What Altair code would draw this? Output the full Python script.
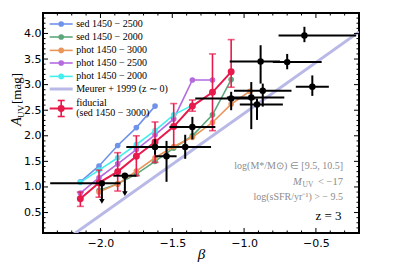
import altair as alt
import pandas as pd

# ---------------- data ----------------
beta_grid = [-2.14, -2.01, -1.88, -1.75, -1.62, -1.49, -1.36, -1.22, -1.09, -0.96]

blue_beta = beta_grid[0:5]
blue_A = [1.10, 1.41, 1.81, 2.16, 2.58]

cyan_beta = beta_grid[0:7]
cyan_A = [1.09, 1.33, 1.57, 1.83, 2.10, 2.41, 2.60]

purple_beta = beta_grid[0:8]
purple_A = [0.88, 1.18, 1.45, 1.73, 2.02, 2.33, 3.09, 3.09]

orange_beta = beta_grid[1:10]
orange_A = [0.90, 1.06, 1.31, 1.57, 1.79, 1.97, 2.26, 2.62, 2.87]

green_beta = beta_grid[1:9]
green_A = [0.93, 1.06, 1.25, 1.50, 1.76, 2.00, 2.41, 3.10]

red_beta = beta_grid[0:9]
red_A = [0.77, 1.08, 1.30, 1.60, 1.88, 2.18, 2.58, 2.85, 3.25]
red_lo = [0.62, 0.80, 0.92, 1.22, 1.48, 1.78, 2.48, 2.10, 2.95]
red_hi = [0.90, 1.33, 1.67, 2.00, 2.27, 2.63, 2.70, 3.60, 3.88]

meurer_beta = [-2.4, -0.2]
meurer_A = [-0.35, 4.03]

obs_beta = [-1.99, -1.83, -1.62, -1.54, -1.41, -1.36, -1.09, -0.95, -0.91, -0.87, -0.885, -0.70, -0.58, -0.525]
obs_A = [1.07, 1.22, 1.78, 1.60, 1.78, 2.17, 2.73, 2.75, 2.61, 2.88, 3.45, 3.44, 3.96, 2.96]
obs_xlo = [-2.35, -1.91, -1.82, -1.62, -1.52, -1.52, -1.34, -1.12, -1.03, -1.07, -1.10, -0.80, -0.76, -0.64]
obs_xhi = [-1.86, -1.75, -1.45, -1.47, -1.23, -1.20, -0.92, -0.72, -0.73, -0.67, -0.75, -0.46, -0.22, -0.41]
obs_ylo = [0.75, 0.90, 1.63, 1.10, 1.55, 1.93, 2.50, 2.13, 2.31, 2.57, 3.02, 3.30, 3.83, 2.78]
obs_yhi = [1.07, 1.22, 1.93, 1.90, 2.02, 2.37, 2.86, 3.05, 2.73, 3.02, 3.77, 3.60, 4.13, 3.18]
uplim_beta = [-1.99, -1.83]
uplim_A = [0.72, 0.87]

x_major = [-2.0, -1.5, -1.0, -0.5]
x_minor = [-2.3, -2.2, -2.1, -1.9, -1.8, -1.7, -1.6, -1.4, -1.3, -1.2, -1.1,
           -0.9, -0.8, -0.7, -0.6, -0.4, -0.3]
y_major = [0.5, 1.0, 1.5, 2.0, 2.5, 3.0, 3.5, 4.0]
y_minor = [0.2, 0.3, 0.4, 0.6, 0.7, 0.8, 0.9, 1.1, 1.2, 1.3, 1.4, 1.6, 1.7, 1.8, 1.9,
           2.1, 2.2, 2.3, 2.4, 2.6, 2.7, 2.8, 2.9, 3.1, 3.2, 3.3, 3.4, 3.6, 3.7, 3.8,
           3.9, 4.1, 4.2, 4.3]

series_names = ["sed 1450 − 2500", "sed 1450 − 2000", "phot 1450 − 3000",
                "phot 1450 − 2500", "phot 1450 − 2000"]
series_colors = ["#6f92ea", "#5ea77c", "#ea9559", "#b46be0", "#45eeee"]
meurer_label = "Meurer + 1999 (z ∼ 0)"
meurer_color = "#b9b9e8"
red_label = ["fiducial", "(sed 1450 − 3000)"]
red_color = "#e8194b"

W, H = 316, 220
SERIF = "Liberation Serif"

xs = alt.Scale(domain=[-2.4, -0.2], nice=False, zero=False)
ys = alt.Scale(domain=[0.1, 4.4], nice=False, zero=False)
xaxis = alt.Axis(values=x_major, title=None, ticks=False, domain=False, grid=False,
                 labelExpr="replace(format(datum.value, '.1f'), '-', '−')",
                 labelFont="DejaVu Sans", labelFontSize=11, labelColor="black",
                 labelPadding=4)
yaxis = alt.Axis(values=y_major, title=None, ticks=False, domain=False, grid=False,
                 format=".1f", labelFont="DejaVu Sans", labelFontSize=11,
                 labelColor="black", labelPadding=2)


def X(f):
    return alt.X(f + ":Q", scale=xs, axis=xaxis)


def Y(f):
    return alt.Y(f + ":Q", scale=ys, axis=yaxis)


layers = []

# Meurer
mdf = pd.DataFrame({"b": meurer_beta, "a": meurer_A})
layers.append(alt.Chart(mdf).mark_line(color=meurer_color, strokeWidth=3, clip=True)
              .encode(x=X("b"), y=Y("a")))

# model series
rows = []
for name, bb, aa in zip(series_names,
                        [blue_beta, green_beta, orange_beta, purple_beta, cyan_beta],
                        [blue_A, green_A, orange_A, purple_A, cyan_A]):
    for b, a in zip(bb, aa):
        rows.append({"s": name, "b": b, "a": a})
sdf = pd.DataFrame(rows)
cscale = alt.Scale(domain=series_names, range=series_colors)
layers.append(alt.Chart(sdf).mark_line(strokeWidth=1.6, clip=True)
              .encode(x=X("b"), y=Y("a"), color=alt.Color("s:N", scale=cscale, legend=None)))
layers.append(alt.Chart(sdf).mark_circle(size=32, opacity=1, clip=True)
              .encode(x=X("b"), y=Y("a"), color=alt.Color("s:N", scale=cscale, legend=None)))

# fiducial red
rdf = pd.DataFrame({"b": red_beta, "a": red_A, "lo": red_lo, "hi": red_hi})
layers.append(alt.Chart(rdf).mark_rule(color=red_color, strokeWidth=1.6, clip=True)
              .encode(x=X("b"), y=Y("lo"), y2="hi"))
layers.append(alt.Chart(rdf).mark_tick(color=red_color, orient="horizontal", size=7,
                                       thickness=1.6, clip=True)
              .encode(x=X("b"), y=Y("lo")))
layers.append(alt.Chart(rdf).mark_tick(color=red_color, orient="horizontal", size=7,
                                       thickness=1.6, clip=True)
              .encode(x=X("b"), y=Y("hi")))
layers.append(alt.Chart(rdf).mark_line(color=red_color, strokeWidth=2, clip=True)
              .encode(x=X("b"), y=Y("a")))
layers.append(alt.Chart(rdf).mark_circle(color=red_color, size=48, opacity=1, clip=True)
              .encode(x=X("b"), y=Y("a")))

# observations (black)
odf = pd.DataFrame({"b": obs_beta, "a": obs_A, "xlo": obs_xlo, "xhi": obs_xhi,
                    "ylo": obs_ylo, "yhi": obs_yhi})
layers.append(alt.Chart(odf).mark_rule(color="black", strokeWidth=2, clip=True)
              .encode(x=X("xlo"), x2="xhi", y=Y("a")))
layers.append(alt.Chart(odf).mark_rule(color="black", strokeWidth=2, clip=True)
              .encode(x=X("b"), y=Y("ylo"), y2="yhi"))
layers.append(alt.Chart(odf).mark_circle(color="black", size=42, opacity=1, clip=True)
              .encode(x=X("b"), y=Y("a")))
udf = pd.DataFrame({"b": uplim_beta, "a": uplim_A})
layers.append(alt.Chart(udf).mark_point(shape="triangle-down", filled=True, color="black",
                                        size=30, opacity=1, clip=True)
              .encode(x=X("b"), y=Y("a")))

# inward ticks on all four sides
for vals, ln in ((x_major, 5), (x_minor, 2.5)):
    tdf = pd.DataFrame({"v": vals})
    layers.append(alt.Chart(tdf).mark_rule(color="black", strokeWidth=1)
                  .encode(x=X("v"), y=alt.value(H), y2=alt.value(H - ln)))
    layers.append(alt.Chart(tdf).mark_rule(color="black", strokeWidth=1)
                  .encode(x=X("v"), y=alt.value(0), y2=alt.value(ln)))
for vals, ln in ((y_major, 5), (y_minor, 2.5)):
    tdf = pd.DataFrame({"v": vals})
    layers.append(alt.Chart(tdf).mark_rule(color="black", strokeWidth=1)
                  .encode(y=Y("v"), x=alt.value(0), x2=alt.value(ln)))
    layers.append(alt.Chart(tdf).mark_rule(color="black", strokeWidth=1)
                  .encode(y=Y("v"), x=alt.value(W), x2=alt.value(W - ln)))

# legend
LX0, LX1, LM, LT = 6.7, 29.7, 18.2, 33.2
LFS = 10
leg_y = [11, 24, 37.4, 50, 63.4]
for name, col, yy in zip(series_names, series_colors, leg_y):
    layers.append(alt.Chart().mark_rule(color=col, strokeWidth=1.6)
                  .encode(x=alt.value(LX0), x2=alt.value(LX1), y=alt.value(yy)))
    layers.append(alt.Chart().mark_circle(color=col, size=32, opacity=1)
                  .encode(x=alt.value(LM), y=alt.value(yy)))
    layers.append(alt.Chart().mark_text(font=SERIF, fontSize=LFS, align="left",
                                        baseline="middle", color="black")
                  .encode(x=alt.value(LT), y=alt.value(yy), text=alt.value(name)))
layers.append(alt.Chart().mark_rule(color=meurer_color, strokeWidth=3)
              .encode(x=alt.value(LX0), x2=alt.value(LX1), y=alt.value(76)))
layers.append(alt.Chart().mark_text(font=SERIF, fontSize=LFS, align="left",
                                    baseline="middle", color="black")
              .encode(x=alt.value(LT), y=alt.value(76), text=alt.value(meurer_label)))
RY = 95.5
layers.append(alt.Chart().mark_rule(color=red_color, strokeWidth=2)
              .encode(x=alt.value(LX0), x2=alt.value(LX1), y=alt.value(RY)))
layers.append(alt.Chart().mark_rule(color=red_color, strokeWidth=1.6)
              .encode(x=alt.value(LM), y=alt.value(RY - 8), y2=alt.value(RY + 8)))
for cy in (RY - 8, RY + 8):
    layers.append(alt.Chart().mark_rule(color=red_color, strokeWidth=1.6)
                  .encode(x=alt.value(LM - 3.5), x2=alt.value(LM + 3.5), y=alt.value(cy)))
layers.append(alt.Chart().mark_circle(color=red_color, size=48, opacity=1)
              .encode(x=alt.value(LM), y=alt.value(RY)))
layers.append(alt.Chart().mark_text(font=SERIF, fontSize=LFS, align="left",
                                    baseline="middle", color="black")
              .encode(x=alt.value(LT), y=alt.value(89.5), text=alt.value(red_label[0])))
layers.append(alt.Chart().mark_text(font=SERIF, fontSize=LFS, align="left",
                                    baseline="middle", color="black")
              .encode(x=alt.value(LT), y=alt.value(99.5), text=alt.value(red_label[1])))

# annotations
GREY = "#8c8c8c"
layers.append(alt.Chart().mark_text(font=SERIF, fontSize=10, align="right",
                                    baseline="middle", color=GREY)
              .encode(x=alt.value(300), y=alt.value(153), text=alt.value("log(M*/M⊙) ∈ [9.5, 10.5]")))
layers.append(alt.Chart().mark_text(font=SERIF, fontSize=10.5, align="left",
                                    baseline="middle", color=GREY, fontStyle="italic")
              .encode(x=alt.value(250), y=alt.value(169), text=alt.value("M")))
layers.append(alt.Chart().mark_text(font=SERIF, fontSize=7.5, align="left",
                                    baseline="middle", color=GREY)
              .encode(x=alt.value(259.5), y=alt.value(172), text=alt.value("UV")))
layers.append(alt.Chart().mark_text(font=SERIF, fontSize=10.5, align="right",
                                    baseline="middle", color=GREY)
              .encode(x=alt.value(300), y=alt.value(169), text=alt.value("< −17")))
layers.append(alt.Chart().mark_text(font=SERIF, fontSize=10, align="right",
                                    baseline="middle", color=GREY)
              .encode(x=alt.value(300), y=alt.value(184), text=alt.value("log(sSFR/yr⁻¹) > − 9.5")))
layers.append(alt.Chart().mark_text(font=SERIF, fontSize=13, align="right",
                                    baseline="middle", color="black")
              .encode(x=alt.value(298.5), y=alt.value(202.5), text=alt.value("z = 3")))

# axis titles
layers.append(alt.Chart().mark_text(font=SERIF, fontSize=15, fontStyle="italic",
                                    align="center", baseline="middle", color="black")
              .encode(x=alt.value(158.4), y=alt.value(241), text=alt.value("β")))
layers.append(alt.Chart().mark_text(font=SERIF, fontSize=14, fontStyle="italic", angle=270,
                                    align="center", baseline="middle", color="black")
              .encode(x=alt.value(-26.5), y=alt.value(108.5), text=alt.value("A")))
layers.append(alt.Chart().mark_text(font=SERIF, fontSize=9, angle=270,
                                    align="center", baseline="middle", color="black")
              .encode(x=alt.value(-22.5), y=alt.value(98.5), text=alt.value("UV")))
layers.append(alt.Chart().mark_text(font=SERIF, fontSize=13, angle=270,
                                    align="center", baseline="middle", color="black")
              .encode(x=alt.value(-26.5), y=alt.value(75.5), text=alt.value("[mag]")))

chart = alt.layer(*layers).properties(
    width=W, height=H,
    autosize=alt.AutoSizeParams(type="none"),
    padding={"left": 35, "top": 5, "right": 32, "bottom": 33},
).configure_view(stroke="black", strokeWidth=2)

chart.save("out.html", embed_options={"renderer": "svg", "actions": False})
